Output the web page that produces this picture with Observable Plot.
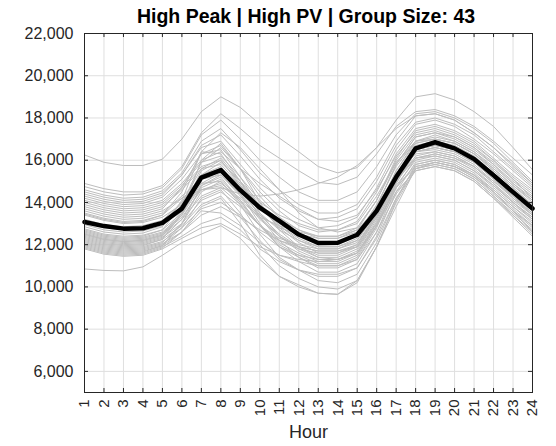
<!DOCTYPE html>
<html>
<head>
<meta charset="utf-8">
<script src="https://cdn.jsdelivr.net/npm/d3@7"></script>
<script src="https://cdn.jsdelivr.net/npm/@observablehq/plot@0.6"></script>
<style>
  html, body { margin: 0; padding: 0; background: #fff; }
  #chart { position: relative; width: 556px; height: 446px; }
  #title {
    position: absolute; top: 5px; left: 82px; width: 448px;
    text-align: center; color: #000;
    font: bold 19.5px "Liberation Sans", Arial, Helvetica, sans-serif;
  }
</style>
</head>
<body>
<div id="chart"><div id="title">High Peak | High PV | Group Size: 43</div></div>
<script>
// Hours of the day and y-axis ticks
const hours = [1, 2, 3, 4, 5, 6, 7, 8, 9, 10, 11, 12, 13, 14, 15, 16, 17, 18, 19, 20, 21, 22, 23, 24];
const yTicks = [6000, 8000, 10000, 12000, 14000, 16000, 18000, 20000, 22000];

// Extreme members of the group (highest and lowest profiles)
const outlierProfiles = [
  [16250,15900,15750,15750,16050,17000,18300,19000,18500,17700,17050,16400,15700,15400,15650,16600,17900,19000,19150,18850,18300,17600,16600,15550],
  [10850,10780,10760,10950,11500,12100,12500,12900,12300,11300,10500,10100,9700,9650,10300,11900,13800,15600,15900,15700,15300,14500,13600,12600]
];

// Members with a high overnight load
const upperProfiles = [
  [14900,14650,14500,14500,14800,15700,17300,18200,17500,16700,16100,15500,14950,14850,15200,16300,17600,18300,18400,18100,17600,16900,16100,15300],
  [14750,14500,14350,14400,14700,15600,17200,17900,17000,16000,15200,14500,14100,14100,14500,15700,17200,18200,18300,18000,17500,16800,15900,15000],
  [14600,14350,14200,14250,14550,15400,16900,17500,16500,15400,14600,13900,13500,13500,13900,15200,16900,18100,18200,17900,17300,16600,15800,14900],
  [14500,14250,14100,14150,14450,15300,16700,17200,16200,15100,14200,13600,13200,13300,13700,15000,16700,17800,18000,17700,17200,16400,15600,14800],
  [14400,14150,14000,14050,14350,15300,16600,16900,15800,14700,13800,13200,12800,12900,13300,14700,16500,17700,17900,17600,17000,16300,15500,14700],
  [14300,14050,13900,13950,14250,15100,16300,16700,15600,14500,13600,12900,12600,12700,13100,14500,16300,17500,17700,17400,16900,16100,15300,14600],
  [14200,13950,13800,13850,14100,14900,16000,16400,15600,14900,14300,13700,13200,13100,13400,14600,16200,17300,17500,17200,16700,16000,15200,14500],
  [14100,13850,13700,13750,14000,14800,15900,16200,15200,14100,13300,12700,12300,12300,12700,14100,16000,17200,17400,17100,16600,15900,15100,14400],
  [14000,13750,13600,13650,13900,14700,15700,16000,14900,13800,12900,12300,11900,11900,12300,13800,15800,17100,17300,17000,16500,15800,15000,14300],
  [13900,13650,13500,13550,13800,14600,15600,15800,14800,13800,13000,12500,12100,12100,12500,13900,15700,16900,17100,16900,16400,15700,14900,14200],
  [13800,13550,13400,13450,13700,14700,16300,16500,15200,13800,12800,12100,11600,11600,12000,13500,15500,16800,17000,16800,16300,15600,14800,14100],
  [13700,13450,13300,13350,13600,14200,14600,14700,14400,14300,14400,14600,14900,15200,15750,16600,17500,18100,18200,17900,17300,16600,15700,14900],
  [13600,13350,13200,13250,13500,14300,15100,15300,14300,13200,12400,11800,11400,11400,11800,13300,15200,16500,16700,16500,16000,15300,14600,13900],
  [13500,13250,13100,13150,13400,14200,14900,15000,14000,12900,12100,11600,11200,11200,11600,13100,15000,16400,16600,16400,15900,15200,14500,13800],
  [13450,13200,13050,13100,13400,14500,16400,17300,16600,15600,14600,13500,12800,12600,12800,14100,16100,17400,17600,17300,16800,16000,15100,14200],
  [13400,13150,13000,13050,13300,13900,14600,14800,14100,13300,12900,12600,12400,12400,12700,13700,15100,16100,16300,16100,15700,15000,14300,13600],
  [13200,12950,12850,12900,13150,14000,15300,15600,14800,13900,13200,12700,12400,12400,12800,14100,15900,16900,17000,16800,16300,15500,14700,13900]
];

// Members with a low overnight load
const lowerProfiles = [
  [13050,12800,12700,12750,13000,14000,15600,16100,15000,13800,12900,12200,11800,11800,12200,13600,15500,16900,17200,16900,16400,15600,14800,14000],
  [12950,12700,12600,12650,12900,13800,15300,15700,14600,13400,12500,11900,11500,11500,11900,13400,15300,16700,16900,16700,16200,15400,14600,13800],
  [12850,12600,12500,12550,12850,14100,16400,16300,15000,13500,12400,11700,11300,11300,11700,13200,15100,16600,16800,16600,16100,15300,14500,13700],
  [12750,12500,12400,12450,12700,13500,14900,15400,14400,13300,12400,11900,11700,11700,12000,13400,15200,16500,16700,16500,16000,15200,14400,13600],
  [12650,12400,12300,12350,12600,13400,14800,15200,14100,12900,11900,11400,11000,11000,11400,12900,14900,16400,16600,16400,15900,15100,14300,13500],
  [12600,12350,12250,12300,12550,13300,14600,14900,14200,13400,12800,12500,12300,12300,12600,13800,15400,16400,16500,16300,15800,15000,14200,13500],
  [12550,12300,12200,12250,12500,13600,15500,16000,14800,13300,12200,11400,10900,10900,11300,12800,14900,16400,16600,16400,15900,15100,14200,13400],
  [12500,12250,12150,12200,12450,13200,14300,14700,13900,12900,12200,11800,11600,11600,11900,13300,15000,16200,16400,16200,15700,14900,14100,13400],
  [12450,12200,12100,12150,12400,13400,15200,15600,14400,13000,11900,11200,10700,10700,11100,12600,14700,16100,16300,16100,15600,14800,14000,13300],
  [12400,12150,12050,12100,12350,13000,14100,14500,13800,12900,12300,12000,11800,11800,12100,13400,15000,16100,16200,16000,15500,14800,14000,13300],
  [12350,12100,12000,12050,12300,13200,14700,15100,14100,12900,12000,11500,11100,11100,11500,12900,14800,16000,16200,16000,15500,14700,13900,13200],
  [12300,12050,11950,12000,12250,12900,13900,14300,13300,12200,11300,10800,10500,10500,10900,12400,14500,15900,16100,15900,15400,14600,13800,13100],
  [12250,12000,11900,11950,12250,13500,16000,16800,15600,14000,12700,11900,11400,11300,11600,13000,15000,16500,16700,16500,16000,15200,14300,13400],
  [12200,11950,11850,11900,12150,12800,13700,14000,13400,12600,11900,11500,11300,11300,11600,12900,14700,15800,16000,15800,15300,14600,13800,13000],
  [12150,11900,11800,11850,12100,13000,14500,15000,13900,12500,11400,10800,10300,10200,10600,12100,14200,15700,15900,15700,15200,14400,13600,12900],
  [12100,11850,11750,11800,12050,12600,13400,13800,13300,12700,12200,11900,11700,11700,11900,13000,14700,15700,15900,15700,15200,14500,13700,12900],
  [12050,11800,11700,11750,12000,12800,14200,14600,13500,12000,11000,10400,10000,9900,10300,11900,14100,15800,16000,15800,15300,14500,13600,12800],
  [12000,11750,11650,11700,11950,12600,13600,13500,12900,12100,11500,11200,11000,11000,11300,12600,14400,15600,15800,15600,15100,14300,13500,12700],
  [11950,11700,11600,11650,11950,13000,14800,15300,14400,13500,12700,12200,11900,11900,12200,13500,15300,16300,16400,16200,15700,14900,14000,13200],
  [11900,11650,11550,11600,11900,12400,13000,13300,12700,11800,11200,10800,10600,10600,10900,12300,14200,15500,15700,15500,15000,14200,13400,12600],
  [11850,11600,11500,11550,11850,12600,13800,14200,13000,11500,10500,10000,9700,9650,10200,11900,14000,15600,15800,15600,15100,14300,13400,12500],
  [11800,11550,11450,11500,11800,12300,12800,13000,12500,11900,11500,11300,11200,11300,11600,12900,14500,15500,15700,15500,15000,14200,13300,12400],
  [12500,12250,12150,12200,12450,13500,15300,15900,15000,14000,13400,13000,12700,12700,13000,14300,15900,16800,17000,16800,16300,15500,14700,13800],
  [12700,12450,12350,12400,12700,13900,15900,16600,15600,14300,13300,12500,12000,12000,12400,13800,15800,17100,17300,17100,16600,15800,14900,14100]
];

// Group average profile
const groupMean = [13075,12880,12760,12780,13030,13710,15180,15530,14580,13750,13130,12480,12080,12090,12470,13600,15200,16560,16850,16560,16060,15290,14490,13710];

// Long-format rows for the line marks
const members = [...outlierProfiles, ...upperProfiles, ...lowerProfiles];
const memberRows = members.flatMap((vals, id) => vals.map((load, j) => ({id, hour: hours[j], load})));
const meanRows = groupMean.map((load, j) => ({hour: hours[j], load}));

const W = 556, H = 446;
const mL = 84, mR = 24, mT = 33, mB = 54;
const plotW = W - mL - mR, plotH = H - mT - mB;
const tickLen = 4;
const axisColor = "#262626";
const gridColor = "#dfdfdf";

const chart = Plot.plot({
  width: W,
  height: H,
  marginLeft: mL,
  marginRight: mR,
  marginTop: mT,
  marginBottom: mB,
  x: {domain: [1, 24]},
  y: {domain: [5000, 22000]},
  style: {fontFamily: '"Liberation Sans", Arial, Helvetica, sans-serif', background: "#fff", color: axisColor},
  marks: [
    Plot.gridX(hours, {stroke: gridColor, strokeOpacity: 1}),
    Plot.gridY(yTicks, {stroke: gridColor, strokeOpacity: 1}),
    Plot.line(memberRows, {x: "hour", y: "load", z: "id", stroke: "#bdbdbd", strokeWidth: 1}),
    Plot.line(meanRows, {x: "hour", y: "load", stroke: "#000", strokeWidth: 4.5, strokeLinejoin: "round"}),
    // inward ticks on all four sides of the box
    Plot.ruleY(yTicks, {stroke: axisColor, insetRight: plotW - tickLen}),
    Plot.ruleY(yTicks, {stroke: axisColor, insetLeft: plotW - tickLen}),
    Plot.ruleX(hours, {stroke: axisColor, insetTop: plotH - tickLen}),
    Plot.ruleX(hours, {stroke: axisColor, insetBottom: plotH - tickLen}),
    Plot.frame({stroke: axisColor}),
    Plot.axisY(yTicks, {tickSize: 0, tickPadding: 11, tickFormat: d3.format(","), fontSize: 16, label: null, fill: axisColor}),
    Plot.axisX(hours, {tickSize: 0, tickPadding: 7, tickRotate: -90, fontSize: 15, label: null, fill: axisColor}),
    Plot.text(["Hour"], {frameAnchor: "bottom", dy: 45, fontSize: 18, fill: axisColor})
  ]
});

document.getElementById("chart").appendChild(chart);
</script>
</body>
</html>
